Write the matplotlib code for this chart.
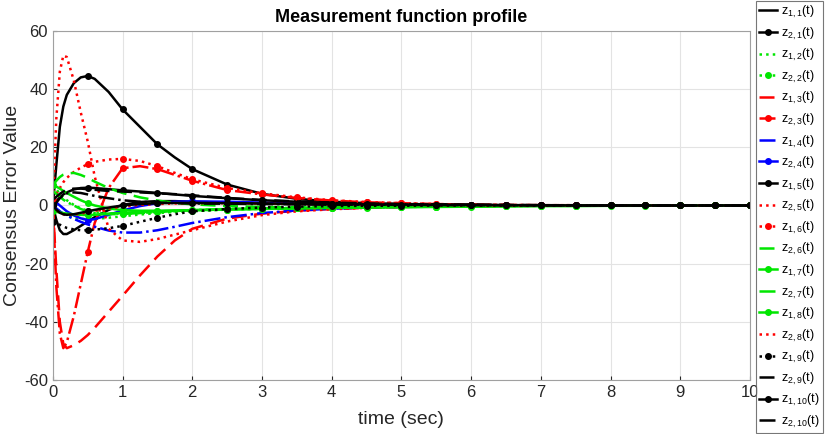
import numpy as np
import matplotlib
matplotlib.use("Agg")
import matplotlib.pyplot as plt

plt.rcParams['font.family'] = ['Liberation Sans', 'DejaVu Sans']
plt.rcParams['mathtext.fontset'] = 'custom'
plt.rcParams['mathtext.rm'] = 'Liberation Sans'
plt.rcParams['mathtext.default'] = 'regular'
plt.rcParams['axes.unicode_minus'] = False

# ---- data ----
t = [0, 0.05, 0.1, 0.15, 0.2, 0.3, 0.4, 0.5, 0.6, 0.8, 1.0, 1.25, 1.5, 1.75, 2.0, 2.5,
     3.0, 3.5, 4.0, 4.5, 5.0, 5.5, 6.0, 6.5, 7.0, 7.5, 8.0, 8.5, 9.0, 9.5, 10.0]

z11 = [0, -5, -8.5, -9.8, -9.8, -8.5, -7, -5.5, -4, -1.5, 0.2, 1.2, 1.5, 1.5, 1.3, 1,
       0.7, 0.5, 0.3, 0.2, 0.1, 0.1, 0, 0, 0, 0, 0, 0, 0, 0, 0]
z21 = [0, 14, 27, 34, 38, 42, 44, 44.5, 43.5, 39, 33, 27, 21, 16.5, 12.5, 7.2,
       4, 2.3, 1.3, 0.8, 0.5, 0.3, 0.2, 0.1, 0.1, 0, 0, 0, 0, 0, 0]
z12 = [0, -1, -2, -2.8, -3.5, -4.3, -4.6, -4.7, -4.6, -4.2, -3.7, -3.1, -2.6, -2.2, -1.9, -1.4,
       -1.1, -0.9, -0.7, -0.5, -0.4, -0.3, -0.2, -0.1, -0.1, 0, 0, 0, 0, 0, 0]
z22 = [7, 5.5, 4, 2.8, 1.8, 0.2, -1, -1.8, -2.3, -2.8, -2.8, -2.6, -2.3, -2, -1.8, -1.4,
       -1.1, -0.9, -0.7, -0.6, -0.5, -0.4, -0.3, -0.2, -0.1, -0.1, 0, 0, 0, 0, 0]
z13 = [0, -22, -40, -47.5, -49, -48, -46.5, -44.5, -42, -36.5, -31, -24, -17.5, -12, -8, -4.5,
       -2.8, -1.8, -1.2, -0.8, -0.5, -0.3, -0.2, -0.1, -0.1, 0, 0, 0, 0, 0, 0]
z23 = [0, -28, -44, -49, -47, -38, -27, -16, -6, 6, 12.8, 13.5, 12.5, 10.5, 8.5, 5.3,
       3.8, 2.6, 1.7, 1.1, 0.8, 0.5, 0.3, 0.2, 0.1, 0.1, 0, 0, 0, 0, 0]
z14 = [0, -1, -2, -2.8, -3.5, -4.6, -5.6, -6.5, -7.3, -8.6, -9.3, -9.3, -8.5, -7.3, -6, -4,
       -2.6, -1.7, -1.1, -0.7, -0.5, -0.3, -0.2, -0.1, -0.1, 0, 0, 0, 0, 0, 0]
z24 = [2, 1, 0, -1, -2, -3.4, -4.4, -5, -4.7, -3.2, -1.7, -0.2, 0.8, 1.3, 1.4, 1.3,
       1, 0.7, 0.5, 0.3, 0.2, 0.1, 0.1, 0, 0, 0, 0, 0, 0, 0, 0]
z15 = [0, 1.5, 2.8, 3.8, 4.5, 5.5, 6, 6.1, 6, 5.6, 5.2, 4.8, 4.3, 3.8, 3.3, 2.5,
       1.8, 1.3, 0.9, 0.6, 0.4, 0.3, 0.2, 0.1, 0.1, 0, 0, 0, 0, 0, 0]
z25 = [0, 30, 46, 51.5, 51, 43, 32, 22, 10, -8, -12, -12.5, -11.5, -10, -8.5, -5.5,
       -3.3, -2, -1.3, -0.8, -0.5, -0.3, -0.2, -0.1, -0.1, 0, 0, 0, 0, 0, 0]
z16 = [2, 4, 6, 8, 9.5, 11.5, 13, 14.2, 15, 15.8, 16, 15.3, 13.5, 11.2, 9, 6,
       4.2, 2.8, 1.8, 1.2, 0.8, 0.5, 0.3, 0.2, 0.1, 0.1, 0, 0, 0, 0, 0]
z26 = [7, 8.5, 9.8, 10.6, 11, 11.2, 10.5, 9.5, 8.2, 6, 4.3, 2.8, 1.7, 0.9, 0.4, -0.2,
       -0.5, -0.6, -0.6, -0.5, -0.4, -0.3, -0.2, -0.1, -0.1, 0, 0, 0, 0, 0, 0]
z17 = [7, 6.5, 5.8, 5, 4.3, 3, 1.8, 0.8, 0, -1, -1.6, -1.8, -1.8, -1.7, -1.6, -1.4,
       -1.2, -1, -0.8, -0.6, -0.5, -0.4, -0.3, -0.2, -0.1, -0.1, 0, 0, 0, 0, 0]
z27 = [5, 4, 3, 2, 1.2, 0, -1.2, -2, -2.6, -3, -2.9, -2.6, -2.2, -1.9, -1.6, -1.2,
       -1, -0.8, -0.6, -0.5, -0.4, -0.3, -0.2, -0.1, -0.1, 0, 0, 0, 0, 0, 0]
z18 = [-2, -2.2, -2.4, -2.6, -2.8, -3, -3.2, -3.3, -3.2, -2.8, -2.5, -2.2, -2, -1.8, -1.6, -1.3,
       -1.1, -0.9, -0.8, -0.7, -0.6, -0.5, -0.4, -0.3, -0.2, -0.2, -0.1, -0.1, 0, 0, 0]
z28 = [0, -1.5, -2.5, -3, -3.2, -3.2, -2.8, -2.3, -1.8, -1, -0.4, 0.2, 0.5, 0.7, 0.8, 0.8,
       0.7, 0.5, 0.4, 0.3, 0.2, 0.1, 0.1, 0, 0, 0, 0, 0, 0, 0, 0]
z19 = [-5.5, -6, -6.6, -7.2, -7.7, -8.2, -8.5, -8.5, -8.3, -7.8, -7, -5.6, -4.2, -3, -2, -1.2,
       -0.7, -0.4, -0.2, -0.1, -0.1, 0, 0, 0, 0, 0, 0, 0, 0, 0, 0]
z29 = [2, 3, 4, 4.8, 5.3, 5.8, 5.8, 5.6, 5.4, 5, 4.8, 4.5, 4.2, 3.9, 3.5, 2.6,
       1.9, 1.4, 1, 0.7, 0.5, 0.4, 0.3, 0.2, 0.1, 0.1, 0, 0, 0, 0, 0]
z110 = [0, -1.5, -2.5, -3, -3.2, -3, -2.5, -2, -1.5, -0.7, 0, 0.5, 0.8, 0.9, 0.9, 0.8,
        0.7, 0.6, 0.5, 0.4, 0.3, 0.2, 0.2, 0.1, 0.1, 0, 0, 0, 0, 0, 0]
z210 = [-1, 1, 2.5, 3.5, 4.2, 4.5, 4.3, 3.8, 3.3, 2.5, 1.8, 1.3, 1, 0.8, 0.7, 0.6,
        0.5, 0.4, 0.3, 0.3, 0.2, 0.2, 0.1, 0.1, 0.1, 0, 0, 0, 0, 0, 0]

series = [z11, z21, z12, z22, z13, z23, z14, z24, z15, z25,
          z16, z26, z17, z27, z18, z28, z19, z29, z110, z210]
labels = [r'z$_{1,1}$(t)', r'z$_{2,1}$(t)', r'z$_{1,2}$(t)', r'z$_{2,2}$(t)',
          r'z$_{1,3}$(t)', r'z$_{2,3}$(t)', r'z$_{1,4}$(t)', r'z$_{2,4}$(t)',
          r'z$_{1,5}$(t)', r'z$_{2,5}$(t)', r'z$_{1,6}$(t)', r'z$_{2,6}$(t)',
          r'z$_{1,7}$(t)', r'z$_{2,7}$(t)', r'z$_{1,8}$(t)', r'z$_{2,8}$(t)',
          r'z$_{1,9}$(t)', r'z$_{2,9}$(t)', r'z$_{1,10}$(t)', r'z$_{2,10}$(t)']

G = '#00e600'
# (color, linestyle, marker)
styles = [('k', '-', None), ('k', '-', 'o'),
          (G, ':', None), (G, ':', 'o'),
          ('r', (0, (6, 3)), None), ('r', '-.', 'o'),
          ('b', '-.', None), ('b', '-', 'o'),
          ('k', '-', 'o'), ('r', ':', None),
          ('r', ':', 'o'), (G, (0, (6, 3)), None),
          (G, '-', 'o'), (G, '-.', None),
          (G, '-', 'o'), ('r', ':', None),
          ('k', ':', 'o'), ('k', (0, (6, 3)), None),
          ('k', '-', 'o'), ('k', '-.', None)]

# markers every 0.5 s
mk = [i for i, v in enumerate(t) if abs(v * 2 - round(v * 2)) < 1e-9]

fig = plt.figure(figsize=(8.26, 4.34), dpi=100)
ax = fig.add_axes([0.064, 0.124, 0.844, 0.805])

for y, lab, (c, ls, m) in zip(series, labels, styles):
    ax.plot(t, y, color=c, linestyle=ls, linewidth=1.8, marker=m, markersize=4,
            markevery=mk if m else None, label=lab)

ax.set_xlim(0, 10)
ax.set_ylim(-60, 60)
ax.set_xticks(range(0, 11))
ax.set_yticks(range(-60, 61, 20))
ax.grid(True, color='#e3e3e3', linewidth=0.8)
ax.tick_params(direction='in', length=3, labelsize=12, colors='#262626')
for s in ax.spines.values():
    s.set_color('#a0a0a0')
    s.set_linewidth(0.8)
ax.set_xlabel('time (sec)', fontsize=14, color='#262626', labelpad=8)
ax.set_ylabel('Consensus Error Value', fontsize=14, color='#262626', labelpad=2)
ax.set_title('Measurement function profile', fontsize=13, fontweight='bold', pad=6)

leg = fig.legend(loc='center left', bbox_to_anchor=(756 / 826, 0.5), fontsize=9,
                 handlelength=1.45, handletextpad=0.3, labelspacing=0.44,
                 borderpad=0.25, borderaxespad=0.0, frameon=True, fancybox=False,
                 edgecolor='#555555')
leg.get_frame().set_linewidth(0.8)

fig.savefig('out.png', dpi=100)
